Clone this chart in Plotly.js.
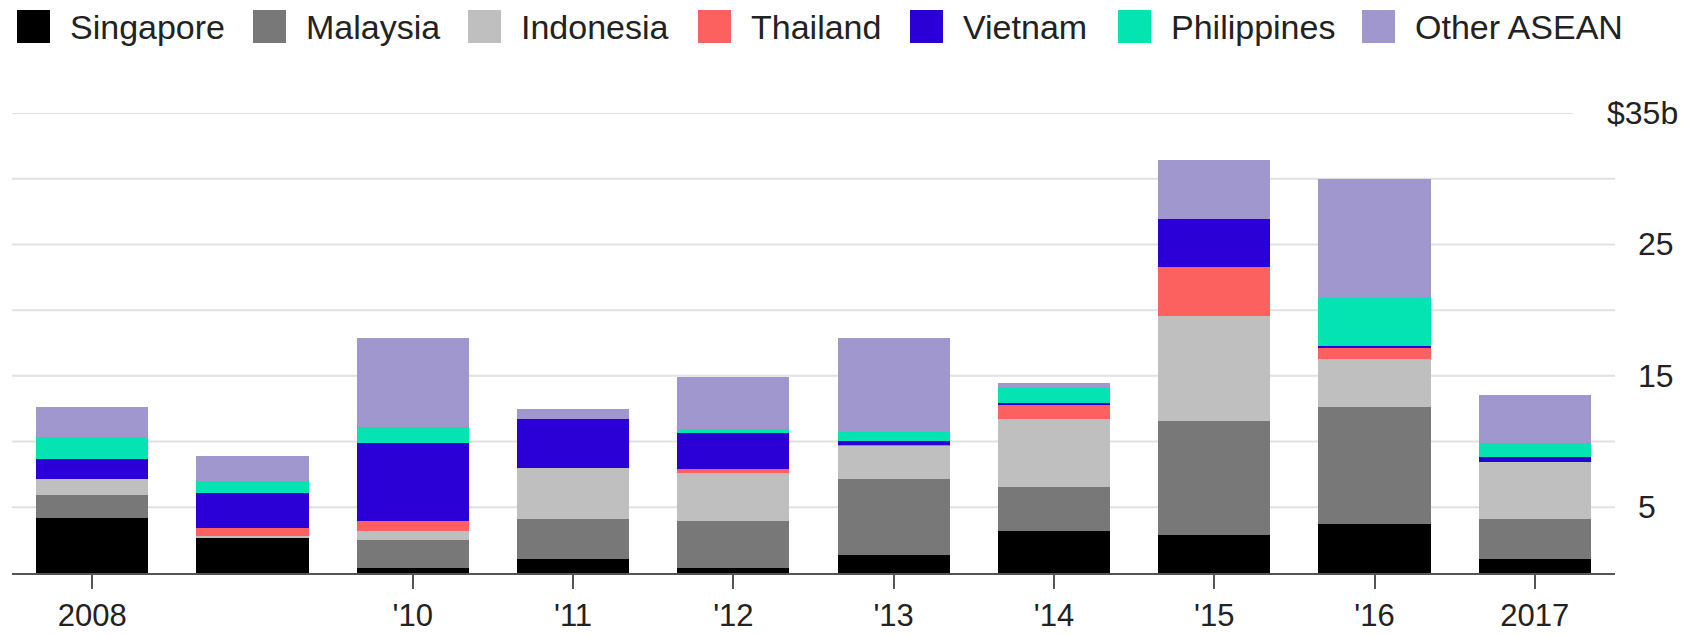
<!DOCTYPE html>
<html>
<head>
<meta charset="utf-8">
<script src="https://cdn.plot.ly/plotly-3.0.1.min.js"></script>
<style>html,body{margin:0;padding:0;background:#fff;}#chart{width:1696px;height:636px;}</style>
</head>
<body>
<div id="chart"></div>
<script>
// ---- data ----
const years = ['2008','2009','2010','2011','2012','2013','2014','2015','2016','2017'];
const yearLabels = ['2008','',"'10","'11","'12","'13","'14","'15","'16",'2017'];
const seriesNames = ['Singapore','Malaysia','Indonesia','Thailand','Vietnam','Philippines','Other ASEAN'];
const singapore  = [4.16, 2.69, 0.36, 1.04, 0.36, 1.37, 3.20, 2.89, 3.73, 1.04];
const malaysia   = [1.78, 0.00, 2.15, 3.07, 3.60, 5.81, 3.37, 8.70, 8.88, 3.09];
const indonesia  = [1.21, 0.15, 0.69, 3.86, 3.67, 2.51, 5.15, 7.97, 3.65, 4.34];
const thailand   = [0.00, 0.56, 0.78, 0.00, 0.26, 0.08, 1.07, 3.75, 0.84, 0.00];
const vietnam    = [1.50, 2.71, 5.94, 3.73, 2.74, 0.30, 0.12, 3.61, 0.18, 0.38];
const philippines= [1.68, 0.91, 1.21, 0.00, 0.31, 0.68, 1.15, 0.00, 3.63, 1.02];
const otherAsean = [2.33, 1.88, 6.78, 0.76, 4.00, 7.11, 0.38, 4.51, 9.05, 3.68];
const yTickVals = [5, 10, 15, 20, 25, 30, 35];
const yTickText = ['5', '', '15', '', '25', '', '$35b'];

// ---- styles ----
const seriesValues = [singapore, malaysia, indonesia, thailand, vietnam, philippines, otherAsean];
const colors = ['#000000', '#787878', '#bfbfbf', '#fd615f', '#2a00d6', '#03e4b2', '#a097cf'];
const FONT = 'Liberation Sans, Arial, Helvetica, sans-serif';
const W = 1696, H = 636;
const plotL = 12, plotR = 1615, plotT = 113, plotB = 573;
const px2x = p => (p - plotL) / (plotR - plotL);
const px2y = p => (plotB - p) / (plotB - plotT);

const traces = seriesNames.map((name, i) => ({
  type: 'bar',
  name: name,
  x: years,
  y: seriesValues[i],
  marker: {color: colors[i], line: {width: 0}},
  width: 0.7,
  hoverinfo: 'x+y+name'
}));

const shapes = [];
const annotations = [];

// gridlines and right-side value labels
yTickVals.forEach((v, i) => {
  const isTop = yTickText[i].startsWith('$');
  shapes.push({type: 'line', xref: 'paper', yref: 'y', x0: 0, x1: isTop ? px2x(1573) : 1,
    y0: v, y1: v, line: {color: '#e1e1e1', width: 2}, layer: 'below'});
  if (yTickText[i]) {
    annotations.push({xref: 'paper', yref: 'y', x: isTop ? px2x(1680) : px2x(1636), y: v,
      xanchor: isTop ? 'right' : 'left', yanchor: 'middle', showarrow: false,
      text: yTickText[i], font: {family: FONT, size: 32, color: '#222'}});
  }
});

// legend built from series names and colours
const legendSquareX = [17, 253, 468, 698, 910, 1118, 1362];
seriesNames.forEach((name, i) => {
  const x0 = legendSquareX[i];
  shapes.push({type: 'rect', xref: 'paper', yref: 'paper',
    x0: px2x(x0), x1: px2x(x0 + 33), y0: px2y(43), y1: px2y(10),
    fillcolor: colors[i], line: {width: 0}});
  annotations.push({xref: 'paper', yref: 'paper', x: px2x(x0 + 51), y: px2y(27),
    xanchor: 'left', yanchor: 'middle', showarrow: false, text: name,
    font: {family: FONT, size: 34, color: '#222'}});
});

const layout = {
  width: W, height: H,
  margin: {l: plotL, r: W - plotR, t: plotT, b: H - plotB, pad: 0},
  paper_bgcolor: '#fff', plot_bgcolor: 'rgba(0,0,0,0)',
  barmode: 'stack',
  showlegend: false,
  font: {family: FONT, size: 32, color: '#222'},
  xaxis: {
    type: 'category', range: [-0.5, 9.5], fixedrange: true,
    tickvals: years.filter((y, i) => yearLabels[i] !== ''),
    ticktext: yearLabels.filter(l => l !== ''),
    ticks: 'outside', ticklen: 14, tickwidth: 2, tickcolor: '#555',
    showline: true, linecolor: '#555', linewidth: 2,
    showgrid: false, zeroline: false,
    tickfont: {family: FONT, size: 31, color: '#222'},
    ticklabelstandoff: 0
  },
  yaxis: {
    range: [0, 35], fixedrange: true, showgrid: false, zeroline: false,
    showticklabels: false, ticks: '', side: 'right'
  },
  shapes: shapes,
  annotations: annotations
};

Plotly.newPlot('chart', traces, layout, {displayModeBar: false, staticPlot: true});
</script>
</body>
</html>
